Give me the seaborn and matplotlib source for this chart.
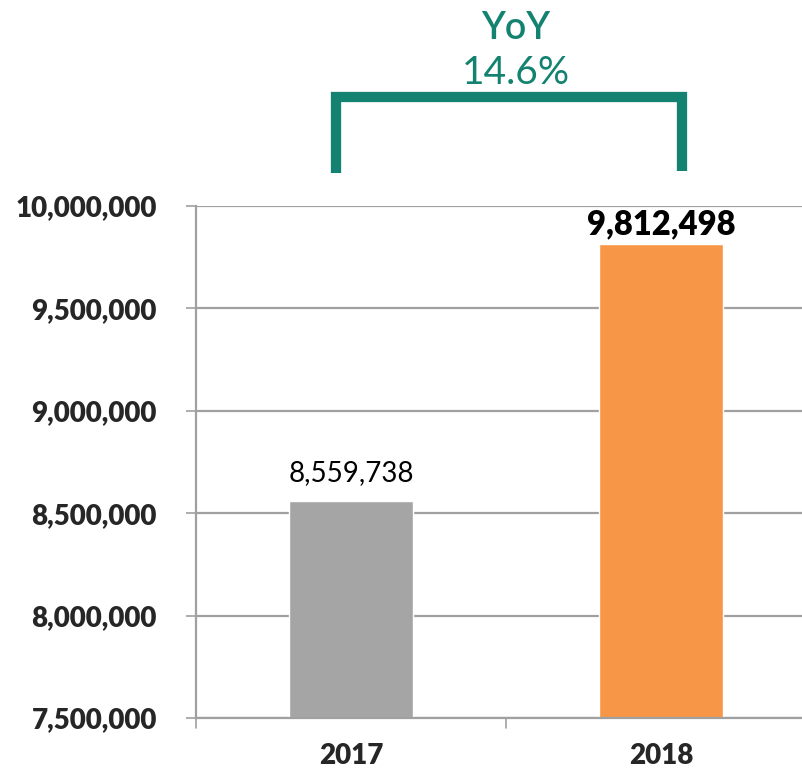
import matplotlib
matplotlib.use("Agg")
import matplotlib.pyplot as plt
import seaborn as sns
import pandas as pd
from matplotlib.ticker import FuncFormatter

years = ["2017", "2018"]
values = [8559738, 9812498]
bar_colors = ["#A5A5A5", "#F79646"]
yoy_label = "YoY"
yoy_value = "14.6%"
y_ticks = [7500000, 8000000, 8500000, 9000000, 9500000, 10000000]

sns.set_style("white")
plt.rcParams["font.family"] = ["Lato", "DejaVu Sans"]

df = pd.DataFrame({"year": years, "value": values})

fig = plt.figure(figsize=(8.02, 7.71), dpi=100)
ax = fig.add_axes([196 / 802, 1 - 718 / 771, 620 / 802, 512 / 771])

sns.barplot(data=df, x="year", y="value", hue="year", palette=bar_colors,
            width=0.4, ax=ax, legend=False, saturation=1)

ymin, ymax = 7500000, 10000000
ax.set_ylim(ymin, ymax)
ax.set_xlim(-0.5, 1.5)
ax.set_yticks(y_ticks)
ax.yaxis.set_major_formatter(FuncFormatter(lambda v, p: f"{int(v):,}"))
ax.grid(axis="y", color="#A0A0A0", linewidth=1.6)
ax.set_axisbelow(True)
for s in ["top", "right"]:
    ax.spines[s].set_visible(False)
for s in ["left", "bottom"]:
    ax.spines[s].set_color("#A0A0A0")
    ax.spines[s].set_linewidth(1.6)
ax.set_xlabel("")
ax.set_ylabel("")
ax.tick_params(axis="y", left=True, length=7.2, width=1.2, color="#A0A0A0",
               pad=21, labelsize=20)
ax.set_xticks([0, 1])
ax.set_xticklabels(years)
ax.tick_params(axis="x", bottom=False, length=0, pad=18, labelsize=20)
for lbl in ax.get_yticklabels() + ax.get_xticklabels():
    lbl.set_fontweight("heavy")
# x category separators
for xb in [-0.5, 0.5]:
    ax.plot([xb, xb], [0, -10 / 512], transform=ax.get_xaxis_transform(),
            color="#A0A0A0", lw=1.2, clip_on=False)

px = (ymax - ymin) / 512  # data units per pixel

# bar value labels
ax.text(0, values[0] + 20 * px, f"{values[0]:,}", ha="center", va="baseline",
        fontsize=20, color="black")
ax.text(1, values[1] + 10 * px, f"{values[1]:,}", ha="center", va="baseline",
        fontsize=23.5, fontweight="heavy", color="black")

# YoY bracket
teal = "#138270"
top = ymax + 109.5 * px
lo_l = ymax + 33 * px
lo_r = ymax + 35 * px
ax.plot([-0.048, -0.048, 1.068, 1.068], [lo_l, top, top, lo_r], color=teal,
        lw=7.4, clip_on=False, solid_joinstyle="miter", solid_capstyle="butt")
ax.text(0.532, ymax + 122 * px, yoy_value, ha="center", va="baseline",
        fontsize=28, color=teal)
ax.text(0.532, ymax + 167 * px, yoy_label, ha="center", va="baseline",
        fontsize=27, color=teal, fontweight="semibold")

fig.savefig("out.png", dpi=100)
